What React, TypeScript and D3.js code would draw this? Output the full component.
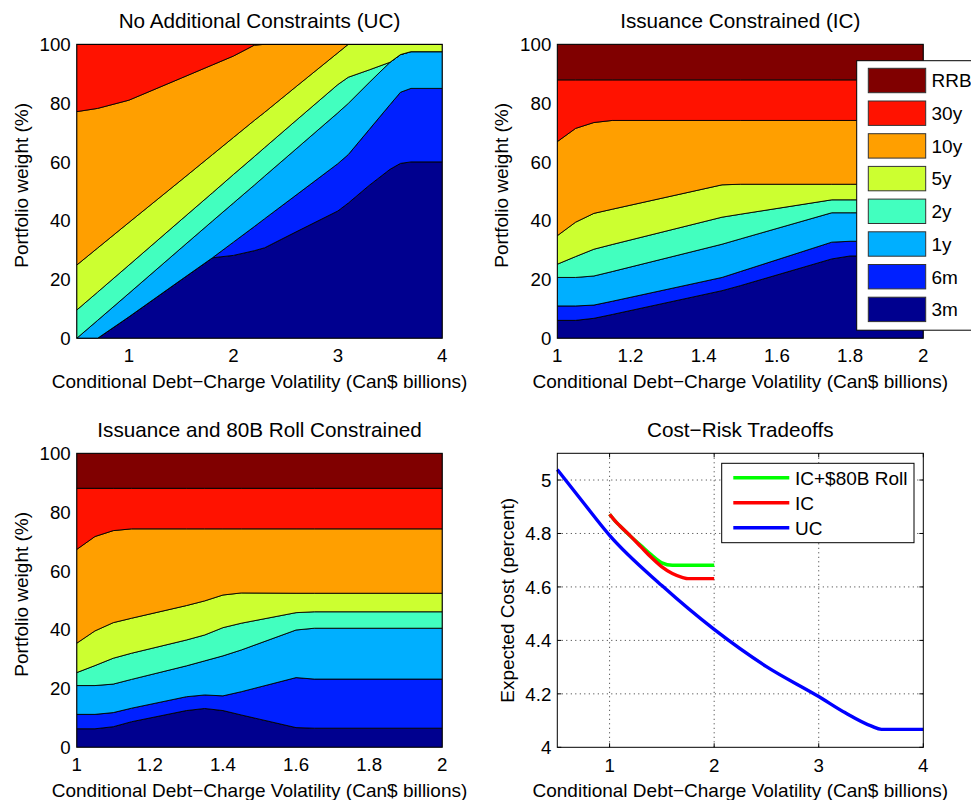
import React from 'react';
import * as d3 from 'd3';

// ---------- Data ----------
const LAYER_NAMES = ['3m', '6m', '1y', '2y', '5y', '10y', '30y', 'RRB'];
const LAYER_COLORS = ['#00008f', '#0020ff', '#00afff', '#42ffbf', '#ccff30', '#ff9f00', '#ff1200', '#800000'];

// Panel 1: No Additional Constraints (UC)
const UC_X = [0.5, 0.7, 1.0, 1.5, 1.8, 2.0, 2.2, 2.3, 2.6, 3.0, 3.1, 3.3, 3.5, 3.6, 3.7, 4.0];
const UC_3M = [0, 0, 7.3, 19.9, 27.4, 28.2, 29.8, 30.8, 36.2, 43.3, 46, 52, 57.5, 59.5, 60, 60];
const UC_6M = [0, 0, 0, 0, 0, 4.5, 8.2, 9.9, 12.5, 16.1, 16.5, 19, 22, 24.2, 25, 25];
const UC_1Y = [0, 6.1, 8.0, 10.8, 12.5, 13.3, 14.1, 14.5, 15.7, 17.3, 17.4, 16, 14.4, 12.8, 12.5, 12.5];
const UC_2Y = [9.6, 9.6, 9.6, 9.6, 9.6, 9.7, 9.7, 9.7, 9.7, 9.6, 8.9, 4.3, 0, 0, 0, 0];
const UC_5Y = [15.3, 15.0, 14.5, 13.5, 13.0, 12.6, 12.3, 12.0, 11.5, 10.8, 11.2, 8.7, 6.1, 3.5, 2.5, 2.5];
const UC_10Y = [52.2, 47.5, 41.6, 34.7, 30.5, 27.7, 25.6, 23.1, 14.4, 2.9, 0, 0, 0, 0, 0, 0];
const UC_30Y = [22.9, 21.8, 19.0, 11.5, 7.0, 4.0, 0.3, 0, 0, 0, 0, 0, 0, 0, 0, 0];
const UC_RRB = [0, 0, 0, 0, 0, 0, 0, 0, 0, 0, 0, 0, 0, 0, 0, 0];

// Panel 2: Issuance Constrained (IC)
const IC_X = [1.0, 1.05, 1.1, 1.15, 1.45, 1.5, 1.75, 1.8, 2.0];
const IC_3M = [6.1, 6.1, 6.8, 8.1, 16.2, 17.9, 27.0, 28.0, 28.0];
const IC_6M = [4.9, 4.9, 4.5, 4.5, 4.5, 4.8, 5.7, 5.0, 5.0];
const IC_1Y = [9.7, 9.7, 9.9, 10.1, 11.3, 11.1, 10.0, 9.7, 9.7];
const IC_2Y = [4.5, 7.1, 9.1, 9.2, 9.2, 8.4, 4.4, 4.4, 4.4];
const IC_5Y = [9.7, 11.7, 12.2, 12.0, 11.0, 10.2, 5.3, 5.3, 5.3];
const IC_10Y = [32.0, 31.9, 30.9, 30.2, 21.9, 21.7, 21.7, 21.7, 21.7];
const IC_30Y = [21.0, 16.5, 14.5, 13.8, 13.8, 13.8, 13.8, 13.8, 13.8];
const IC_RRB = [12.1, 12.1, 12.1, 12.1, 12.1, 12.1, 12.1, 12.1, 12.1];

// Panel 3: Issuance and 80B Roll Constrained
const RC_X = [1.0, 1.05, 1.1, 1.15, 1.3, 1.35, 1.4, 1.45, 1.6, 1.65, 2.0];
const RC_3M = [6.3, 6.3, 7.0, 8.7, 12.5, 13.2, 12.5, 11.0, 6.7, 6.5, 6.5];
const RC_6M = [4.9, 4.9, 4.8, 4.6, 4.7, 4.6, 5.0, 7.9, 17.0, 16.7, 16.7];
const RC_1Y = [9.8, 9.8, 9.7, 9.8, 10.5, 11.6, 13.6, 14.2, 16.2, 17.3, 17.3];
const RC_2Y = [4.4, 6.8, 8.8, 8.9, 8.8, 8.8, 9.6, 9.1, 5.9, 5.6, 5.6];
const RC_5Y = [10.0, 11.8, 12.1, 11.9, 11.7, 11.6, 11.1, 10.3, 6.6, 6.3, 6.3];
const RC_10Y = [31.9, 32.1, 31.3, 30.4, 26.1, 24.5, 22.5, 21.8, 21.9, 21.9, 21.9];
const RC_30Y = [20.8, 16.4, 14.4, 13.8, 13.8, 13.8, 13.8, 13.8, 13.8, 13.8, 13.8];
const RC_RRB = [11.9, 11.9, 11.9, 11.9, 11.9, 11.9, 11.9, 11.9, 11.9, 11.9, 11.9];

// Panel 4: Cost-Risk Tradeoffs
const UC_COST_X = [0.5, 0.75, 1.0, 1.5, 2.0, 2.5, 3.0, 3.25, 3.5, 3.6, 4.0];
const UC_COST_Y = [5.039, 4.915, 4.793, 4.605, 4.441, 4.302, 4.19, 4.13, 4.08, 4.067, 4.067];
const IC_COST_X = [1.0, 1.05, 1.1, 1.2, 1.3, 1.4, 1.5, 1.6, 1.7, 1.75, 2.0];
const IC_COST_Y = [4.872, 4.848, 4.828, 4.79, 4.75, 4.71, 4.675, 4.65, 4.635, 4.631, 4.631];
const RC_COST_X = [1.0, 1.05, 1.1, 1.2, 1.3, 1.4, 1.5, 1.6, 2.0];
const RC_COST_Y = [4.872, 4.848, 4.828, 4.79, 4.755, 4.72, 4.69, 4.681, 4.681];

const AREA_Y_TICKS = [0, 20, 40, 60, 80, 100];
const UC_X_TICKS = [1, 2, 3, 4];
const IC_X_TICKS = [1, 1.2, 1.4, 1.6, 1.8, 2];
const IC_X_TICK_LABELS = ['1', '1.2', '1.4', '1.6', '1.8', '2'];
const COST_Y_TICKS = [4, 4.2, 4.4, 4.6, 4.8, 5];
const COST_Y_TICK_LABELS = ['4', '4.2', '4.4', '4.6', '4.8', '5'];
const COST_LEGEND = ['IC+$80B Roll', 'IC', 'UC'];
const COST_COLORS = ['#00ff00', '#ff0000', '#0000ff'];

const X_LABEL = 'Conditional Debt\u2212Charge Volatility (Can$ billions)';
const FONT = '"Liberation Sans", Arial, Helvetica, sans-serif';
const TICK_FS = 18.7;
const LABEL_FS = 19;
const TITLE_FS = 20.7;

type Box = { left: number; top: number; right: number; bottom: number };

function buildRows(xs: number[], layers: number[][]) {
  return xs.map((x, i) => {
    const row: any = { x };
    LAYER_NAMES.forEach((n, k) => (row[n] = layers[k][i]));
    return row;
  });
}

function AreaPanel(props: {
  id: string; box: Box; xDomain: [number, number]; xs: number[]; layers: number[][];
  xTicks: number[]; xTickLabels: string[]; title: string; legend?: boolean;
}) {
  const { id, box, xDomain, xs, layers, xTicks, xTickLabels, title, legend } = props;
  const x = d3.scaleLinear().domain(xDomain).range([box.left, box.right]);
  const y = d3.scaleLinear().domain([0, 100]).range([box.bottom, box.top]);
  const rows = buildRows(xs, layers);
  const series = d3.stack<any>().keys(LAYER_NAMES)(rows);
  const area = d3.area<any>()
    .x((d) => x(d.data.x))
    .y0((d) => y(d[0]))
    .y1((d) => y(d[1]));
  const cx = (box.left + box.right) / 2;
  const cy = (box.top + box.bottom) / 2;
  return (
    <g>
      <defs>
        <clipPath id={`clip-${id}`}>
          <rect x={box.left} y={box.top} width={box.right - box.left} height={box.bottom - box.top} />
        </clipPath>
      </defs>
      <rect x={box.left} y={box.top} width={box.right - box.left} height={box.bottom - box.top} fill="#fff" />
      <g clipPath={`url(#clip-${id})`}>
        {series.map((s, k) => (
          <path key={k} d={area(s as any) || ''} fill={LAYER_COLORS[k]} stroke="#000" strokeWidth={0.9} strokeLinejoin="round" />
        ))}
      </g>
      <rect x={box.left} y={box.top} width={box.right - box.left} height={box.bottom - box.top} fill="none" stroke="#000" strokeWidth={1} />
      {AREA_Y_TICKS.map((t) => (
        <text key={t} x={box.left - 6} y={y(t)} dy="0.36em" textAnchor="end" fontSize={TICK_FS} fontFamily={FONT} fill="#000">{t}</text>
      ))}
      {xTicks.map((t, i) => (
        <text key={i} x={x(t)} y={box.bottom + 24} textAnchor="middle" fontSize={TICK_FS} fontFamily={FONT} fill="#000">{xTickLabels[i]}</text>
      ))}
      <text x={cx} y={box.bottom + 49.5} textAnchor="middle" fontSize={LABEL_FS} fontFamily={FONT} fill="#000">{X_LABEL}</text>
      <text transform={`translate(${box.left - 49},${cy - 6}) rotate(-90)`} textAnchor="middle" fontSize={LABEL_FS} fontFamily={FONT} fill="#000">Portfolio weight (%)</text>
      <text x={cx} y={box.top - 16.5} textAnchor="middle" fontSize={TITLE_FS} fontFamily={FONT} fill="#000">{title}</text>
      {legend && (
        <g>
          <rect x={856.7} y={60.7} width={130} height={269.5} fill="#fff" stroke="#000" strokeWidth={1} />
          {LAYER_NAMES.slice().reverse().map((n, i) => {
            const k = LAYER_NAMES.length - 1 - i;
            const sy = 68.3 + i * 32.7;
            return (
              <g key={n}>
                <rect x={868.3} y={sy} width={57.4} height={24.4} fill={LAYER_COLORS[k]} stroke="#333" strokeWidth={1} />
                <text x={931.5} y={sy + 12.2} dy="0.36em" fontSize={LABEL_FS} fontFamily={FONT} fill="#000">{n}</text>
              </g>
            );
          })}
        </g>
      )}
    </g>
  );
}

function CostPanel({ box }: { box: Box }) {
  const x = d3.scaleLinear().domain([0.5, 4]).range([box.left, box.right]);
  const y = d3.scaleLinear().domain([4, 5.1]).range([box.bottom, box.top]);
  const line = d3.line<[number, number]>()
    .x((d) => x(d[0]))
    .y((d) => y(d[1]))
    .curve(d3.curveMonotoneX);
  const mk = (xs: number[], ys: number[]) => xs.map((v, i) => [v, ys[i]] as [number, number]);
  const xTicks = [1, 2, 3, 4];
  const cx = (box.left + box.right) / 2;
  const cy = (box.top + box.bottom) / 2;
  const lines = [mk(RC_COST_X, RC_COST_Y), mk(IC_COST_X, IC_COST_Y), mk(UC_COST_X, UC_COST_Y)];
  return (
    <g>
      <rect x={box.left} y={box.top} width={box.right - box.left} height={box.bottom - box.top} fill="#fff" />
      {xTicks.slice(0, 3).map((t) => (
        <line key={'gx' + t} x1={x(t)} x2={x(t)} y1={box.top} y2={box.bottom} stroke="#333" strokeWidth={1} strokeDasharray="1,3.5" />
      ))}
      {COST_Y_TICKS.slice(1).map((t) => (
        <line key={'gy' + t} x1={box.left} x2={box.right} y1={y(t)} y2={y(t)} stroke="#333" strokeWidth={1} strokeDasharray="1,3.5" />
      ))}
      {xTicks.map((t) => (
        <g key={'tx' + t}>
          <line x1={x(t)} x2={x(t)} y1={box.bottom} y2={box.bottom - 4} stroke="#000" />
          <line x1={x(t)} x2={x(t)} y1={box.top} y2={box.top + 4} stroke="#000" />
        </g>
      ))}
      {COST_Y_TICKS.map((t) => (
        <g key={'ty' + t}>
          <line x1={box.left} x2={box.left + 4} y1={y(t)} y2={y(t)} stroke="#000" />
          <line x1={box.right} x2={box.right - 4} y1={y(t)} y2={y(t)} stroke="#000" />
        </g>
      ))}
      {lines.map((pts, i) => (
        <path key={i} d={line(pts) || ''} fill="none" stroke={COST_COLORS[i]} strokeWidth={3.4} />
      ))}
      <rect x={box.left} y={box.top} width={box.right - box.left} height={box.bottom - box.top} fill="none" stroke="#000" strokeWidth={1} />
      {COST_Y_TICKS.map((t, i) => (
        <text key={t} x={box.left - 6} y={y(t)} dy="0.36em" textAnchor="end" fontSize={TICK_FS} fontFamily={FONT} fill="#000">{COST_Y_TICK_LABELS[i]}</text>
      ))}
      {xTicks.map((t) => (
        <text key={t} x={x(t)} y={box.bottom + 24.5} textAnchor="middle" fontSize={TICK_FS} fontFamily={FONT} fill="#000">{t}</text>
      ))}
      <text x={cx} y={box.bottom + 50} textAnchor="middle" fontSize={LABEL_FS} fontFamily={FONT} fill="#000">{X_LABEL}</text>
      <text transform={`translate(${box.left - 43.5},${cy}) rotate(-90)`} textAnchor="middle" fontSize={LABEL_FS} fontFamily={FONT} fill="#000">Expected Cost (percent)</text>
      <text x={cx} y={box.top - 16.5} textAnchor="middle" fontSize={TITLE_FS} fontFamily={FONT} fill="#000">Cost{'\u2212'}Risk Tradeoffs</text>
      <g>
        <rect x={721.7} y={463.3} width={192.3} height={79.4} fill="#fff" stroke="#000" strokeWidth={1} />
        {COST_LEGEND.map((n, i) => {
          const ly = 477.7 + i * 25;
          return (
            <g key={n}>
              <line x1={733.3} x2={789.3} y1={ly} y2={ly} stroke={COST_COLORS[i]} strokeWidth={3.4} />
              <text x={795} y={ly} dy="0.36em" fontSize={LABEL_FS} fontFamily={FONT} fill="#000">{n}</text>
            </g>
          );
        })}
      </g>
    </g>
  );
}

export default function App() {
  const p1: Box = { left: 76.7, top: 44.3, right: 442.3, bottom: 338.3 };
  const p2: Box = { left: 557.3, top: 44.3, right: 923.3, bottom: 338.3 };
  const p3: Box = { left: 76.7, top: 453.3, right: 442.3, bottom: 747.3 };
  const p4: Box = { left: 557.3, top: 453.3, right: 923.3, bottom: 747.3 };
  return (
    <svg width={971} height={800} style={{ position: 'absolute', left: 0, top: 0, background: '#fff' }}>
      <rect x={0} y={0} width={971} height={800} fill="#fff" />
      <AreaPanel id="uc" box={p1} xDomain={[0.5, 4]} xs={UC_X}
        layers={[UC_3M, UC_6M, UC_1Y, UC_2Y, UC_5Y, UC_10Y, UC_30Y, UC_RRB]}
        xTicks={UC_X_TICKS} xTickLabels={UC_X_TICKS.map(String)} title="No Additional Constraints (UC)" />
      <AreaPanel id="ic" box={p2} xDomain={[1, 2]} xs={IC_X}
        layers={[IC_3M, IC_6M, IC_1Y, IC_2Y, IC_5Y, IC_10Y, IC_30Y, IC_RRB]}
        xTicks={IC_X_TICKS} xTickLabels={IC_X_TICK_LABELS} title="Issuance Constrained (IC)" legend />
      <AreaPanel id="rc" box={p3} xDomain={[1, 2]} xs={RC_X}
        layers={[RC_3M, RC_6M, RC_1Y, RC_2Y, RC_5Y, RC_10Y, RC_30Y, RC_RRB]}
        xTicks={IC_X_TICKS} xTickLabels={IC_X_TICK_LABELS} title="Issuance and 80B Roll Constrained" />
      <CostPanel box={p4} />
    </svg>
  );
}
